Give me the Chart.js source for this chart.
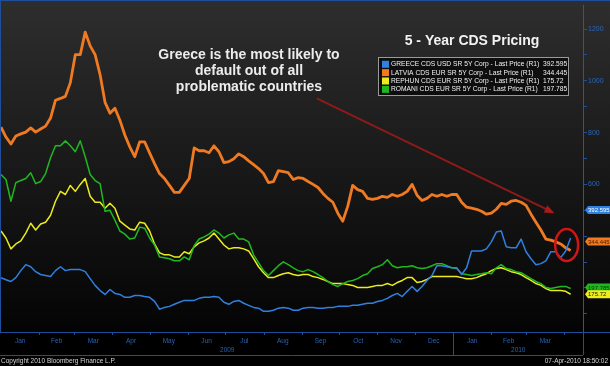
<!DOCTYPE html>
<html>
<head>
<meta charset="utf-8">
<script src="https://cdn.jsdelivr.net/npm/chart.js@4"></script>
<style>
  html, body { margin: 0; padding: 0; background: #000; }
  #wrap { width: 610px; height: 366px; }
</style>
</head>
<body>
<div id="wrap"><canvas id="grafica" width="610" height="366"></canvas></div>
<script>
// series, sampled every 4 days from 1 Jan 2009
const latvia = [821, 783, 756, 787, 795, 802, 818, 802, 814, 825,
  856, 925, 932, 940, 993, 1101, 1101, 1188, 1135, 1101,
  1024, 917, 875, 894, 848, 791, 745, 707, 764, 764,
  722, 680, 642, 623, 596, 569, 569, 596, 623, 741,
  730, 730, 722, 749, 726, 684, 688, 699, 718, 707,
  691, 676, 661, 642, 607, 611, 653, 649, 645, 619,
  626, 623, 611, 600, 588, 565, 546, 531, 489, 458,
  515, 596, 580, 573, 546, 542, 546, 554, 550, 561,
  554, 561, 573, 600, 558, 538, 546, 561, 554, 561,
  554, 561, 561, 531, 512, 508, 504, 496, 485, 489,
  504, 527, 523, 535, 538, 531, 519, 485, 454, 424,
  389, 385, 378, 370, 355, 344.445];
const greece = [240, 232, 225, 240, 267, 290, 282, 263, 252, 248,
  244, 267, 282, 267, 271, 271, 271, 263, 236, 210,
  190, 175, 194, 179, 175, 164, 164, 171, 171, 167,
  164, 148, 118, 125, 129, 137, 145, 152, 152, 152,
  160, 164, 164, 167, 164, 145, 137, 148, 152, 141,
  133, 125, 122, 110, 110, 114, 122, 125, 122, 114,
  114, 122, 125, 125, 122, 122, 125, 125, 129, 129,
  129, 133, 133, 137, 141, 141, 148, 152, 160, 171,
  179, 167, 187, 206, 187, 206, 229, 248, 286, 286,
  282, 278, 278, 252, 278, 343, 343, 343, 351, 378,
  416, 420, 359, 355, 355, 389, 340, 313, 290, 294,
  305, 340, 340, 317, 343, 392.595];
const romania = [638, 619, 535, 607, 615, 623, 645, 603, 611, 642,
  703, 749, 749, 768, 749, 726, 768, 707, 638, 615,
  603, 496, 500, 462, 420, 408, 389, 393, 435, 431,
  393, 366, 320, 317, 313, 305, 305, 320, 309, 363,
  389, 397, 408, 424, 412, 393, 405, 412, 389, 389,
  378, 328, 298, 267, 248, 267, 286, 301, 290, 278,
  267, 263, 271, 263, 252, 240, 225, 213, 206, 217,
  225, 229, 236, 248, 255, 275, 282, 290, 309, 286,
  278, 282, 282, 286, 278, 275, 278, 286, 294, 294,
  286, 278, 275, 255, 252, 248, 252, 255, 259, 255,
  278, 290, 275, 271, 263, 259, 248, 236, 225, 217,
  202, 198, 202, 206, 206, 197.785];
const hungary = [420, 393, 351, 370, 382, 412, 450, 424, 447, 454,
  481, 535, 573, 561, 596, 573, 600, 623, 554, 531,
  531, 508, 527, 508, 458, 443, 428, 424, 454, 450,
  420, 370, 336, 328, 328, 320, 320, 340, 332, 359,
  374, 382, 393, 412, 389, 366, 351, 355, 355, 351,
  343, 313, 282, 259, 240, 240, 248, 255, 259, 252,
  248, 252, 252, 244, 240, 233, 225, 217, 217, 217,
  213, 210, 202, 202, 202, 206, 210, 210, 217, 210,
  221, 229, 240, 240, 221, 225, 233, 244, 244, 244,
  244, 244, 244, 240, 236, 236, 240, 248, 255, 267,
  275, 278, 271, 263, 259, 252, 240, 229, 217, 210,
  198, 190, 190, 190, 187, 175.72];

const days = greece.map((_, i) => i * 4);
const monthNames = ['Jan', 'Feb', 'Mar', 'Apr', 'May', 'Jun', 'Jul', 'Aug', 'Sep', 'Oct', 'Nov', 'Dec', 'Jan', 'Feb', 'Mar'];
const years = ['2009', '2010'];
const yTicks = [100, 200, 300, 400, 500, 600, 700, 800, 900, 1000, 1100, 1200];
const yLabels = [600, 800, 1000, 1200];

const names = ['GREECE CDS USD SR 5Y Corp - Last Price (R1)', 'LATVIA CDS EUR SR 5Y Corp - Last Price (R1)',
  'REPHUN CDS EUR SR 5Y Corp - Last Price (R1)', 'ROMANI CDS EUR SR 5Y Corp - Last Price (R1)'];
const lastVals = ['392.595', '344.445', '175.72', '197.785'];
const colores = ['#2f80e0', '#ef7a22', '#ecec1c', '#20b820'];

const FONT = "'Liberation Sans', Arial, sans-serif";
const DAY0 = Date.UTC(2009, 0, 1);
const dayOf = (y, m) => (Date.UTC(y, m, 1) - DAY0) / 86400000;

const pts = arr => arr.map((v, i) => ({ x: days[i], y: v }));

const decor = {
  id: 'decor',
  beforeDraw(chart) {
    const c = chart.ctx, a = chart.chartArea;
    const g = c.createLinearGradient(0, 0, 0, a.bottom);
    g.addColorStop(0, '#2e2e2e');
    g.addColorStop(1, '#040404');
    c.save();
    c.fillStyle = '#000';
    c.fillRect(0, 0, chart.width, chart.height);
    c.fillStyle = g;
    c.fillRect(0, 0, chart.width, a.bottom);
    c.restore();
  },
  afterDraw(chart) {
    const c = chart.ctx, a = chart.chartArea;
    const xs = chart.scales.x, ys = chart.scales.y;
    const blue = '#1f4f9a';
    c.save();

    // frame
    c.strokeStyle = blue;
    c.lineWidth = 1;
    c.beginPath();
    c.moveTo(0, 0.5); c.lineTo(chart.width, 0.5);
    c.moveTo(a.left - 0.5, 0); c.lineTo(a.left - 0.5, a.bottom);
    c.moveTo(0, a.bottom + 0.5); c.lineTo(chart.width, a.bottom + 0.5);
    c.moveTo(0, a.bottom + 23.5); c.lineTo(a.right, a.bottom + 23.5);
    c.moveTo(a.right + 0.5, a.bottom); c.lineTo(a.right + 0.5, a.bottom + 23);
    c.stroke();

    // month band
    c.font = '6.5px ' + FONT;
    c.fillStyle = '#2a62b0';
    c.textAlign = 'center';
    c.textBaseline = 'middle';
    monthNames.forEach((m, i) => {
      const yr = 2009 + Math.floor(i / 12), mo = i % 12;
      const d0 = dayOf(yr, mo), d1 = dayOf(yr, mo + 1);
      const x0 = xs.getPixelForValue(d0), x1 = xs.getPixelForValue(d1);
      c.fillText(m, (x0 + x1) / 2, a.bottom + 9);
      c.beginPath();
      c.moveTo(Math.round(x1) + 0.5, a.bottom);
      c.lineTo(Math.round(x1) + 0.5, a.bottom + 3);
      c.stroke();
    });
    const xSep = Math.round(xs.getPixelForValue(dayOf(2010, 0))) + 0.5;
    c.beginPath();
    c.moveTo(xSep, a.bottom); c.lineTo(xSep, a.bottom + 23);
    c.stroke();
    c.fillText(years[0], (a.left + xSep) / 2, a.bottom + 18);
    c.fillText(years[1], (xSep + a.right) / 2, a.bottom + 18);

    // copyright line
    c.fillStyle = '#d6d6d6';
    c.textAlign = 'left';
    c.fillText('Copyright 2010 Bloomberg Finance L.P.', 1, a.bottom + 29);
    c.textAlign = 'right';
    c.fillText('07-Apr-2010 18:50:02', chart.width - 2, a.bottom + 29);

    // title
    c.fillStyle = '#f2f2f2';
    c.textAlign = 'center';
    c.font = 'bold 14px ' + FONT;
    c.fillText('5 - Year CDS Pricing', 472, 41);

    // annotation text
    c.fillStyle = '#ececec';
    ['Greece is the most likely to', 'default out of all', 'problematic countries'].forEach((t, i) => {
      c.fillText(t, 249, 55 + i * 16);
    });

    // arrow
    const ax0 = xs.getPixelForValue(255), ay0 = ys.getPixelForValue(932);
    const ax1 = xs.getPixelForValue(447), ay1 = ys.getPixelForValue(489);
    const ang = Math.atan2(ay1 - ay0, ax1 - ax0);
    c.strokeStyle = '#8e1a1a';
    c.lineWidth = 2;
    c.beginPath();
    c.moveTo(ax0, ay0);
    c.lineTo(ax1 - 8 * Math.cos(ang), ay1 - 8 * Math.sin(ang));
    c.stroke();
    c.fillStyle = '#b01818';
    c.beginPath();
    c.moveTo(ax1, ay1);
    c.lineTo(ax1 - 10 * Math.cos(ang) + 4 * Math.sin(ang), ay1 - 10 * Math.sin(ang) - 4 * Math.cos(ang));
    c.lineTo(ax1 - 10 * Math.cos(ang) - 4 * Math.sin(ang), ay1 - 10 * Math.sin(ang) + 4 * Math.cos(ang));
    c.closePath();
    c.fill();

    // circle round the last values
    c.strokeStyle = '#d01515';
    c.lineWidth = 2.5;
    c.beginPath();
    c.ellipse(xs.getPixelForValue(456.8), ys.getPixelForValue(366), 11.5, 16, 0, 0, Math.PI * 2);
    c.stroke();

    // legend box
    c.fillStyle = 'rgba(12,12,12,0.9)';
    c.fillRect(378, 57, 191, 39);
    c.strokeStyle = '#9a9a9a';
    c.lineWidth = 1;
    c.strokeRect(378.5, 57.5, 190, 38);
    c.font = '6.7px ' + FONT;
    c.textAlign = 'left';
    names.forEach((n, i) => {
      const y = 64.3 + i * 8.35;
      c.fillStyle = colores[i];
      c.fillRect(382, y - 3.5, 7, 7);
      c.fillStyle = '#f0f0f0';
      c.fillText(n, 391, y);
      c.fillText(lastVals[i], 543, y);
    });

    // value tags on the right axis
    const series = [greece, latvia, romania, hungary];
    const tagCol = [colores[0], colores[1], colores[3], colores[2]];
    const tagTxt = ['#ffffff', '#4a2000', '#0a3a0a', '#202000'];
    const shift = [-28, -9, -1, 0];
    c.font = '6px ' + FONT;
    series.forEach((s, i) => {
      const v = s[s.length - 1];
      const y = ys.getPixelForValue(v) + shift[i];
      const x = a.right + 2;
      c.fillStyle = tagCol[i];
      c.beginPath();
      c.moveTo(x, y);
      c.lineTo(x + 3, y - 4);
      c.lineTo(chart.width, y - 4);
      c.lineTo(chart.width, y + 4);
      c.lineTo(x + 3, y + 4);
      c.closePath();
      c.fill();
      c.fillStyle = tagTxt[i];
      c.textAlign = 'left';
      c.fillText(String(v), x + 3, y + 0.5);
    });
    c.restore();
  }
};

const ctx = document.getElementById('grafica').getContext('2d');
new Chart(ctx, {
  type: 'line',
  data: {
    datasets: [
      { label: 'GREECE', data: pts(greece), borderColor: colores[0], borderWidth: 1.5 },
      { label: 'ROMANI', data: pts(romania), borderColor: colores[3], borderWidth: 1.5 },
      { label: 'REPHUN', data: pts(hungary), borderColor: colores[2], borderWidth: 1.5 },
      { label: 'LATVIA', data: pts(latvia), borderColor: colores[1], borderWidth: 2.8 }
    ]
  },
  options: {
    responsive: false,
    animation: false,
    devicePixelRatio: 1,
    elements: { point: { radius: 0 }, line: { tension: 0, borderJoinStyle: 'round' } },
    layout: { padding: { top: 2, left: 1, right: 0, bottom: 34 } },
    scales: {
      x: { type: 'linear', min: 0, max: 470, display: false },
      y: {
        position: 'right',
        min: 30,
        max: 1292,
        afterFit: s => { s.width = 27; },
        afterBuildTicks: s => { s.ticks = yTicks.map(v => ({ value: v })); },
        ticks: {
          color: '#2a66b8',
          font: { size: 7, family: FONT },
          padding: 1,
          callback: v => yLabels.includes(v) ? v : ''
        },
        grid: { drawOnChartArea: false, color: '#1f4f9a', tickLength: 4 },
        border: { color: '#2157a5', width: 1 }
      }
    },
    plugins: { legend: { display: false }, tooltip: { enabled: false } }
  },
  plugins: [decor]
});
</script>
</body>
</html>
